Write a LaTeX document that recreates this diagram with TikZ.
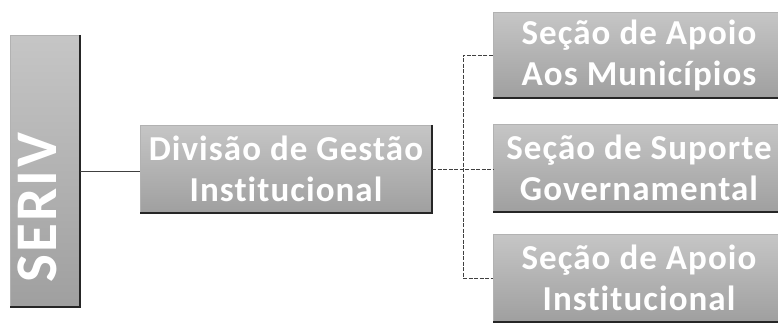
\documentclass[tikz,border=0pt]{standalone}
\usepackage{fontspec}
\setmainfont{Carlito}
\begin{document}
\begin{tikzpicture}[x=1pt,y=-1pt,
  unitbox/.style={rectangle,inner sep=0pt,
    top color=gray!45,bottom color=gray!75,draw=gray!60},
  unittext/.style={text=white,
    font=\bfseries\fontsize{35}{41}\selectfont\addfontfeatures{LetterSpace=3,Ligatures=NoCommon},
    align=center},
  link/.style={line width=0.7pt,draw=black!75},
  branch/.style={link,dash pattern=on 4pt off 1.5pt}]
\useasboundingbox (0,0) rectangle (778,327);

% vertical SERIV box
\node[unitbox,minimum width=70pt,minimum height=272pt] (seriv) at (45,171) {};
\node[text=white,font=\bfseries\fontsize{59}{59}\selectfont\addfontfeatures{LetterSpace=4},
  rotate=90] (serivtxt) at (37,208) {SERIV};

% division box
\node[unitbox,minimum width=292pt,minimum height=88pt] (div) at (286,169) {};
\node[unittext] (divtxt) at (div.center) {Divisão de Gestão\\Institucional};

% section boxes
\node[unitbox,minimum width=292pt,minimum height=86pt] (s1) at (639,55) {};
\node[unittext] (s1txt) at (s1.center) {Seção de Apoio\\Aos Municípios};
\node[unitbox,minimum width=292pt,minimum height=88pt] (s2) at (639,168) {};
\node[unittext] (s2txt) at (s2.center) {Seção de Suporte\\Governamental};
\node[unitbox,minimum width=292pt,minimum height=87pt] (s3) at (639,278) {};
\node[unittext] (s3txt) at (s3.center) {Seção de Apoio\\Institucional};

% dark shadow edges (right and bottom)
\foreach \b in {seriv,div,s1,s2,s3}{
  \draw[black!85,line width=1.6pt] (\b.north east) -- (\b.south east) -- (\b.south west);
}

% connectors
\coordinate (j) at (463,168);
\draw[link] (seriv.east) -- (seriv.east -| div.west);
\draw[branch] (div.east) -- (div.east -| s2.west);
\draw[branch] (s1.west) -| (j) |- (s3.west);
\end{tikzpicture}
\end{document}
